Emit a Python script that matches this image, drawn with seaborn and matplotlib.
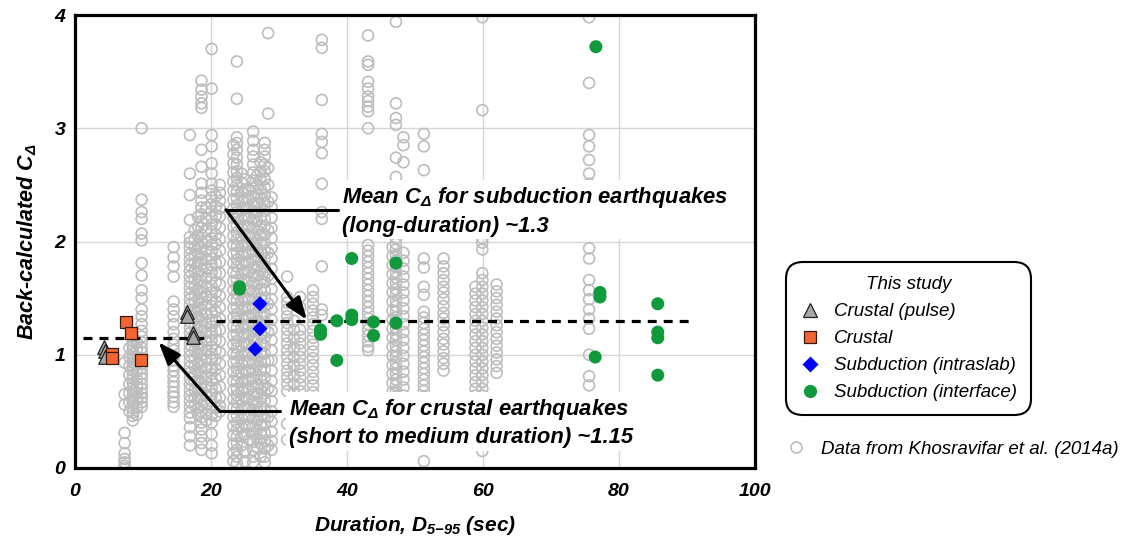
import numpy as np
import pandas as pd
import matplotlib
matplotlib.use("Agg")
import matplotlib.pyplot as plt
from matplotlib.lines import Line2D
import seaborn as sns

# ---------------- data: Khosravifar et al. (2014a) background columns ----------------
kh_d07 = 7.3
kh_v07 = [0.00, 0.02, 0.05, 0.08, 0.13, 0.22, 0.31, 0.56, 0.65, 0.93]
kh_d080 = 8.0
kh_v080 = [0.50, 0.58, 0.66, 0.74, 0.82, 0.90, 0.98, 1.06]
kh_d085 = 8.5
kh_v085 = [0.42, 0.46, 0.49, 0.53, 0.57, 0.60, 0.64, 0.68, 0.71, 0.75, 0.79, 0.82, 0.86,
           0.90, 0.93, 0.97, 1.01, 1.04, 1.08, 1.12, 1.16]
kh_d091 = 9.1
kh_v091 = [0.47, 0.53, 0.60, 0.66, 0.72, 0.78, 0.85, 0.91, 0.98, 1.05, 1.11]
kh_d098 = 9.8
kh_v098 = [3.00, 2.37, 2.26, 2.20, 2.07, 2.01, 1.81, 1.70, 1.57, 1.50, 1.40, 1.34, 1.27,
           1.21, 1.16, 1.11, 1.06, 1.02, 0.97, 0.92, 0.88, 0.83, 0.79, 0.74, 0.70, 0.66,
           0.62, 0.58, 0.54]
kh_d145 = 14.5
kh_v145 = [1.95, 1.86, 1.78, 1.69, 1.47, 1.40, 1.34, 1.27, 1.20, 1.14, 1.09, 1.04, 0.99,
           0.95, 0.90, 0.86, 0.81, 0.76, 0.72, 0.67, 0.63, 0.58, 0.54]
kh_d169 = 16.9
kh_v169 = [2.94, 2.60, 2.41, 2.19, 2.04, 1.99, 1.94, 1.89, 1.84, 1.79, 1.74, 1.69, 1.64,
           1.59, 1.54, 1.49, 1.44, 1.39, 1.34, 1.29, 1.24, 1.19, 1.14, 1.09, 1.04, 0.99,
           0.94, 0.89, 0.84, 0.79, 0.74, 0.69, 0.64, 0.59, 0.54, 0.49, 0.44, 0.36, 0.28, 0.20]
kh_d176 = 17.6
kh_v176 = [2.10, 2.02, 1.95, 1.88, 1.81, 1.74, 1.67, 1.60, 1.53, 1.46, 1.39, 1.32, 1.25,
           1.18, 1.11, 1.04, 0.97, 0.90, 0.83, 0.76, 0.69, 0.62, 0.55]
kh_d181 = 18.1
kh_v181 = [2.22, 2.13, 2.05, 1.97, 1.89, 1.81, 1.73, 1.65, 1.57, 1.49, 1.41, 1.33, 1.25,
           1.17, 1.09, 1.01, 0.93, 0.85, 0.77, 0.69, 0.61, 0.53, 0.47]
kh_d186 = 18.6
kh_v186 = [3.42, 3.34, 3.28, 3.22, 3.18, 2.81, 2.66, 2.51, 2.43, 2.36, 2.30, 2.24, 2.18,
           2.12, 2.06, 2.00, 1.95, 1.90, 1.85, 1.80, 1.75, 1.70, 1.65, 1.60, 1.55, 1.50,
           1.45, 1.40, 1.35, 1.30, 1.25, 1.20, 1.15, 1.10, 1.05, 1.00, 0.95, 0.90, 0.85,
           0.80, 0.75, 0.70, 0.65, 0.60, 0.55, 0.50, 0.45, 0.40, 0.34, 0.28, 0.22, 0.16]
kh_d193 = 19.3
kh_v193 = [2.30, 2.20, 2.10, 2.00, 1.92, 1.84, 1.76, 1.68, 1.60, 1.52, 1.44, 1.36, 1.28,
           1.20, 1.12, 1.04, 0.96, 0.88, 0.80, 0.72, 0.64, 0.56, 0.48, 0.42]
kh_d201 = 20.1
kh_v201 = [3.70, 3.35, 2.94, 2.84, 2.69, 2.60, 2.51, 2.45, 2.39, 2.33, 2.27, 2.21, 2.15,
           2.09, 2.03, 1.97, 1.91, 1.85, 1.79, 1.73, 1.67, 1.61, 1.55, 1.49, 1.43, 1.37,
           1.31, 1.25, 1.19, 1.13, 1.07, 1.01, 0.95, 0.89, 0.83, 0.77, 0.71, 0.65, 0.59,
           0.53, 0.47, 0.40, 0.30, 0.20, 0.13]
kh_d207 = 20.7
kh_v207 = [2.40, 2.31, 2.23, 2.15, 2.06, 1.98, 1.89, 1.81, 1.72, 1.64, 1.55, 1.47, 1.38,
           1.30, 1.21, 1.13, 1.04, 0.96, 0.87, 0.79, 0.70, 0.62, 0.53, 0.46]
kh_d213 = 21.3
kh_v213 = [2.50, 2.43, 2.36, 2.29, 2.22, 2.12, 2.02, 1.92, 1.82, 1.72, 1.62, 1.52, 1.42,
           1.32, 1.22, 1.12, 1.02, 0.92, 0.82, 0.72, 0.62, 0.55, 0.50]
kh_d233 = 23.3
kh_v233 = [2.85, 2.77, 2.69, 2.61, 2.53, 2.45, 2.37, 2.29, 2.21, 2.13, 2.05, 1.97, 1.89,
           1.81, 1.73, 1.65, 1.57, 1.49, 1.41, 1.33, 1.25, 1.17, 1.09, 1.01, 0.93, 0.85,
           0.77, 0.69, 0.61, 0.53, 0.45, 0.37, 0.29, 0.21, 0.13, 0.06]
kh_d238 = 23.8
kh_v238 = [3.59, 3.26, 2.92, 2.87, 2.81, 2.74, 2.68, 2.62, 2.56, 2.50, 2.44, 2.38, 2.32,
           2.26, 2.20, 2.14, 2.08, 2.02, 1.96, 1.90, 1.84, 1.78, 1.72, 1.66, 1.60, 1.54,
           1.48, 1.42, 1.36, 1.30, 1.24, 1.18, 1.12, 1.06, 1.00, 0.94, 0.88, 0.82, 0.76,
           0.70, 0.64, 0.58, 0.52, 0.46, 0.40, 0.34, 0.28, 0.22, 0.16, 0.10, 0.04]
kh_d245 = 24.5
kh_v245 = [2.60, 2.52, 2.44, 2.36, 2.28, 2.20, 2.12, 2.04, 1.96, 1.88, 1.80, 1.72, 1.64,
           1.56, 1.48, 1.40, 1.32, 1.24, 1.16, 1.08, 1.00, 0.92, 0.84, 0.76, 0.68, 0.60,
           0.52, 0.44, 0.36, 0.28, 0.20]
kh_d250 = 25.0
kh_v250 = [2.55, 2.46, 2.38, 2.30, 2.22, 2.14, 2.06, 1.98, 1.90, 1.82, 1.74, 1.66, 1.58,
           1.50, 1.42, 1.34, 1.26, 1.18, 1.10, 1.02, 0.94, 0.86, 0.78, 0.70, 0.62, 0.54,
           0.46, 0.38, 0.30, 0.14, 0.06]
kh_d256 = 25.6
kh_v256 = [2.45, 2.37, 2.29, 2.21, 2.13, 2.05, 1.97, 1.89, 1.81, 1.73, 1.65, 1.57, 1.49,
           1.41, 1.33, 1.25, 1.17, 1.09, 1.01, 0.93, 0.85, 0.77, 0.69, 0.61, 0.53, 0.45,
           0.37, 0.25]
kh_d262 = 26.2
kh_v262 = [2.97, 2.89, 2.81, 2.75, 2.68, 2.61, 2.54, 2.47, 2.40, 2.33, 2.26, 2.19, 2.12,
           2.05, 1.98, 1.91, 1.84, 1.77, 1.70, 1.63, 1.56, 1.49, 1.42, 1.35, 1.28, 1.21,
           1.14, 1.07, 1.00, 0.93, 0.86, 0.79, 0.72, 0.65, 0.58, 0.51, 0.44, 0.37, 0.30,
           0.23, 0.16, 0.10, 0.05]
kh_d268 = 26.8
kh_v268 = [2.58, 2.50, 2.42, 2.34, 2.26, 2.18, 2.10, 2.02, 1.94, 1.86, 1.78, 1.70, 1.62,
           1.54, 1.46, 1.38, 1.30, 1.22, 1.14, 1.06, 0.98, 0.90, 0.82, 0.74, 0.66, 0.58,
           0.50, 0.42, 0.34, 0.26, 0.18]
kh_d273 = 27.3
kh_v273 = [2.70, 2.62, 2.54, 2.46, 2.38, 2.30, 2.22, 2.14, 2.06, 1.98, 1.90, 1.82, 1.74,
           1.66, 1.58, 1.50, 1.42, 1.34, 1.26, 1.18, 1.10, 1.02, 0.94, 0.86, 0.78, 0.70,
           0.62, 0.54, 0.46, 0.38, 0.30, 0.22, 0.10]
kh_d279 = 27.9
kh_v279 = [2.87, 2.81, 2.75, 2.68, 2.62, 2.55, 2.48, 2.41, 2.34, 2.27, 2.20, 2.13, 2.06,
           1.99, 1.92, 1.85, 1.78, 1.71, 1.64, 1.57, 1.50, 1.43, 1.36, 1.29, 1.22, 1.15,
           1.08, 1.01, 0.94, 0.87, 0.80, 0.73, 0.66, 0.59, 0.52, 0.45, 0.38, 0.31, 0.24,
           0.17, 0.10, 0.05]
kh_d284 = 28.4
kh_v284 = [3.84, 3.13, 2.65, 2.50, 2.35, 2.10, 1.90, 1.70, 1.45, 1.20, 0.95, 0.70,
           0.45, 0.20]
kh_d289 = 28.9
kh_v289 = [2.39, 2.30, 2.21, 2.12, 2.03, 1.94, 1.85, 1.76, 1.67, 1.58, 1.49, 1.40, 1.31,
           1.22, 1.13, 1.04, 0.95, 0.86, 0.77, 0.68, 0.59, 0.50, 0.41, 0.32, 0.24, 0.16]
kh_d312 = 31.2
kh_v312 = [1.69, 1.51, 1.46, 1.40, 1.34, 1.28, 1.22, 1.16, 1.10, 1.04, 0.98, 0.92, 0.86,
           0.80, 0.74, 0.68, 0.39, 0.25]
kh_d322 = 32.2
kh_v322 = [1.30, 1.22, 1.14, 1.06, 0.98, 0.90, 0.82, 0.74, 0.66]
kh_d331 = 33.1
kh_v331 = [1.51, 1.42, 1.22, 1.16, 1.10, 1.04, 0.98, 0.92, 0.86, 0.80, 0.74, 0.68]
kh_d350 = 35.0
kh_v350 = [1.57, 1.51, 1.45, 1.39, 1.33, 1.27, 1.21, 1.15, 1.09, 1.03, 0.97, 0.91, 0.85,
           0.79, 0.73, 0.67]
kh_d363 = 36.3
kh_v363 = [3.78, 3.71, 3.25, 2.95, 2.88, 2.78, 2.51, 2.26, 2.20, 1.78, 1.40, 1.35]
kh_d431 = 43.1
kh_v431 = [3.82, 3.59, 3.56, 3.41, 3.35, 3.28, 3.24, 3.19, 3.15, 3.00, 1.97, 1.92, 1.87,
           1.82, 1.77, 1.72, 1.67, 1.62, 1.57, 1.52, 1.47, 1.42, 1.37, 1.32, 1.27, 1.22,
           1.17, 1.12, 1.07, 1.04]
kh_d467 = 46.7
kh_v467 = [1.95, 1.87, 1.79, 1.71, 1.63, 1.55, 1.47, 1.39, 1.31, 1.23, 1.15, 1.07, 0.99,
           0.91, 0.83, 0.75, 0.67, 0.60]
kh_d472 = 47.2
kh_v472 = [3.94, 3.22, 3.09, 3.03, 2.74, 2.57, 2.45, 2.30, 2.15, 2.03, 1.98, 1.93, 1.88,
           1.83, 1.78, 1.73, 1.68, 1.63, 1.58, 1.53, 1.48, 1.43, 1.38, 1.33, 1.28, 1.23,
           1.18, 1.13, 1.08, 1.03, 0.98, 0.93, 0.88, 0.83, 0.78, 0.73, 0.68, 0.63, 0.58]
kh_d483 = 48.3
kh_v483 = [2.92, 2.85, 2.70, 1.90, 1.83, 1.76, 1.69, 1.62, 1.55, 1.48, 1.41, 1.34, 1.27,
           1.20, 1.13, 1.06, 0.99, 0.92, 0.85, 0.78, 0.71, 0.64]
kh_d513 = 51.3
kh_v513 = [2.95, 2.84, 2.63, 1.85, 1.77, 1.60, 1.53, 1.38, 1.33, 1.28, 1.23, 1.18, 1.13,
           1.08, 1.03, 0.98, 0.93, 0.88, 0.83, 0.78, 0.73, 0.68, 0.63, 0.06]
kh_d542 = 54.2
kh_v542 = [1.85, 1.78, 1.72, 1.66, 1.60, 1.55, 1.49, 1.43, 1.37, 1.32, 1.26, 1.20, 1.14,
           1.09, 1.03, 0.97, 0.92, 0.86]
kh_d589 = 58.9
kh_v589 = [1.60, 1.54, 1.48, 1.42, 1.36, 1.30, 1.24, 1.18, 1.12, 1.06, 1.00, 0.94, 0.88,
           0.82, 0.76, 0.70, 0.64]
kh_d599 = 59.9
kh_v599 = [3.98, 3.16, 2.03, 1.99, 1.93, 1.72, 1.66, 1.60, 1.54, 1.48, 1.42, 1.36, 1.30,
           1.24, 1.18, 1.12, 1.06, 1.00, 0.94, 0.88, 0.82, 0.76, 0.70, 0.64, 0.15]
kh_d620 = 62.0
kh_v620 = [1.62, 1.56, 1.50, 1.44, 1.38, 1.32, 1.26, 1.20, 1.14, 1.08, 1.02, 0.96, 0.90,
           0.84]
kh_d756 = 75.6
kh_v756 = [3.98, 3.40, 2.94, 2.84, 2.72, 2.60, 2.51, 1.94, 1.85, 1.66, 1.57, 1.49, 1.40,
           1.32, 1.23, 1.00, 0.81, 0.73, 0.62]

# ---------------- data: this study ----------------
pulse_dur = [4.2, 4.4, 4.4, 16.4, 16.4, 17.4, 17.4]
pulse_cd = [1.07, 1.03, 0.98, 1.38, 1.34, 1.19, 1.16]

crustal_dur = [7.5, 8.2, 5.4, 5.4, 9.7]
crustal_cd = [1.29, 1.19, 1.01, 0.97, 0.95]

intraslab_dur = [27.2, 27.2, 26.5]
intraslab_cd = [1.45, 1.23, 1.05]

interface_dur = [24.2, 24.2, 36.1, 36.1, 38.5, 38.5, 40.7, 40.7, 40.7, 43.9, 43.9,
                 47.2, 47.2, 76.6, 77.2, 77.2, 76.5, 85.7, 85.7, 85.7, 85.7]
interface_cd = [1.60, 1.58, 1.22, 1.18, 1.30, 0.95, 1.85, 1.35, 1.31, 1.29, 1.17,
                1.81, 1.28, 3.72, 1.55, 1.51, 0.98, 1.45, 1.20, 1.15, 0.82]

mean_crustal = 1.15
mean_crustal_range = [1.2, 19.5]
mean_subduction = 1.3
mean_subduction_range = [20.8, 91.2]

# ---------------- build tables ----------------
bg_cols = [
    (kh_d07, kh_v07), (kh_d080, kh_v080), (kh_d085, kh_v085), (kh_d091, kh_v091),
    (kh_d098, kh_v098), (kh_d145, kh_v145), (kh_d169, kh_v169), (kh_d176, kh_v176),
    (kh_d181, kh_v181), (kh_d186, kh_v186), (kh_d193, kh_v193), (kh_d201, kh_v201),
    (kh_d207, kh_v207), (kh_d213, kh_v213), (kh_d233, kh_v233), (kh_d238, kh_v238),
    (kh_d245, kh_v245), (kh_d250, kh_v250), (kh_d256, kh_v256), (kh_d262, kh_v262),
    (kh_d268, kh_v268), (kh_d273, kh_v273), (kh_d279, kh_v279), (kh_d284, kh_v284),
    (kh_d289, kh_v289), (kh_d312, kh_v312), (kh_d322, kh_v322), (kh_d331, kh_v331),
    (kh_d350, kh_v350), (kh_d363, kh_v363), (kh_d431, kh_v431), (kh_d467, kh_v467),
    (kh_d472, kh_v472), (kh_d483, kh_v483), (kh_d513, kh_v513), (kh_d542, kh_v542),
    (kh_d589, kh_v589), (kh_d599, kh_v599), (kh_d620, kh_v620), (kh_d756, kh_v756),
]
bg = pd.DataFrame({
    "duration": [d for d, vals in bg_cols for _ in vals],
    "cdelta": [v for _, vals in bg_cols for v in vals],
})
df_pulse = pd.DataFrame({"duration": pulse_dur, "cdelta": pulse_cd})
df_crustal = pd.DataFrame({"duration": crustal_dur, "cdelta": crustal_cd})
df_intra = pd.DataFrame({"duration": intraslab_dur, "cdelta": intraslab_cd})
df_inter = pd.DataFrame({"duration": interface_dur, "cdelta": interface_cd})

# ---------------- style ----------------
sns.set_style("white")
plt.rcParams["font.family"] = ["Liberation Sans", "DejaVu Sans"]
plt.rcParams["text.color"] = "black"
plt.rcParams["axes.labelcolor"] = "black"
plt.rcParams["xtick.color"] = "black"
plt.rcParams["ytick.color"] = "black"
plt.rcParams["mathtext.fontset"] = "custom"
plt.rcParams["mathtext.rm"] = "Liberation Sans:bold:italic"
plt.rcParams["mathtext.it"] = "Liberation Sans:bold:italic"
plt.rcParams["mathtext.bf"] = "Liberation Sans:bold:italic"
plt.rcParams["mathtext.sf"] = "Liberation Sans:bold:italic"

GRAY_C = "#bdbdbd"
GREEN = "#109a3c"
BLUE = "#0000ff"
ORANGE = "#f26430"
TRI = "#a8a8a8"

fig = plt.figure(figsize=(11.25, 5.41), dpi=100)
ax = fig.add_axes([75 / 1125, 1 - 468 / 541, 680 / 1125, 453 / 541])

sns.scatterplot(data=bg, x="duration", y="cdelta", ax=ax, marker="o", s=62,
                facecolors="none", edgecolor=GRAY_C, linewidth=1.2, legend=False, zorder=2)
for coll in ax.collections:
    coll.set_facecolor("none")

# mean lines
ax.plot(mean_crustal_range, [mean_crustal] * 2, color="black", lw=2.3,
        dashes=(2.8, 2.2), zorder=4)
ax.plot(mean_subduction_range, [mean_subduction] * 2, color="black", lw=2.3,
        dashes=(2.8, 2.2), zorder=4)

sns.scatterplot(data=df_pulse, x="duration", y="cdelta", ax=ax, marker="^", s=95,
                color=TRI, edgecolor="#202020", linewidth=0.9, legend=False, zorder=6)
sns.scatterplot(data=df_crustal, x="duration", y="cdelta", ax=ax, marker="s", s=85,
                color=ORANGE, edgecolor="#3a1a10", linewidth=0.9, legend=False, zorder=6)
sns.scatterplot(data=df_intra, x="duration", y="cdelta", ax=ax, marker="D", s=60,
                color=BLUE, edgecolor="none", linewidth=0, legend=False, zorder=6)
sns.scatterplot(data=df_inter, x="duration", y="cdelta", ax=ax, marker="o", s=88,
                color=GREEN, edgecolor="none", linewidth=0, legend=False, zorder=6)

# annotations
txt_font = dict(fontsize=15.8, fontweight="bold", fontstyle="italic", color="black")
ax.text(39.3, 2.27, "Mean C$_{Δ}$ for subduction earthquakes\n(long-duration) ~1.3",
        ha="left", va="center", linespacing=1.35, zorder=5,
        bbox=dict(boxstyle="square,pad=0.12", fc="white", ec="none"), **txt_font)
ax.text(31.4, 0.40, "Mean C$_{Δ}$ for crustal earthquakes\n(short to medium duration) ~1.15",
        ha="left", va="center", linespacing=1.35, zorder=5,
        bbox=dict(boxstyle="square,pad=0.12", fc="white", ec="none"), **txt_font)

ax.plot([22.2, 38.7], [2.28, 2.28], color="black", lw=2.2, zorder=5)
ax.annotate("", xy=(34.1, 1.31), xytext=(22.2, 2.28),
            arrowprops=dict(arrowstyle="-|>,head_length=0.8,head_width=0.3",
                            color="black", lw=2.2, shrinkA=0, shrinkB=0,
                            mutation_scale=17), zorder=5)
ax.plot([21.3, 30.1], [0.50, 0.50], color="black", lw=2.2, zorder=5)
ax.annotate("", xy=(12.3, 1.11), xytext=(21.3, 0.50),
            arrowprops=dict(arrowstyle="-|>,head_length=0.8,head_width=0.3",
                            color="black", lw=2.2, shrinkA=0, shrinkB=0,
                            mutation_scale=17), zorder=5)

# axes
ax.set_xlim(0, 100)
ax.set_ylim(0, 4)
ax.set_xticks([0, 20, 40, 60, 80, 100])
ax.set_xticks([10, 30, 50, 70, 90], minor=True)
ax.set_yticks([0, 1, 2, 3, 4])
ax.set_yticks([0.2, 0.4, 0.6, 0.8, 1.2, 1.4, 1.6, 1.8, 2.2, 2.4, 2.6, 2.8,
               3.2, 3.4, 3.6, 3.8], minor=True)
ax.grid(True, which="major", color="#d6d6d6", lw=1.0, zorder=0)
ax.set_axisbelow(True)
for sp in ax.spines.values():
    sp.set_visible(True)
    sp.set_linewidth(2.3)
    sp.set_color("black")
    sp.set_zorder(8)
ax.tick_params(which="major", direction="in", length=8, width=2.0, color="black")
ax.tick_params(which="minor", direction="in", length=4.5, width=2.0, color="black")
ax.tick_params(axis="x", which="major", pad=11, labelsize=14)
ax.tick_params(axis="y", which="major", pad=7, labelsize=14)
ax.tick_params(top=False, right=False, which="both")
for lab in ax.get_xticklabels() + ax.get_yticklabels():
    lab.set_fontweight("bold")
    lab.set_fontstyle("italic")
    lab.set_color("black")

ax.set_xlabel("Duration, D$_{5{-}95}$ (sec)", fontsize=15, fontweight="bold",
              fontstyle="italic", labelpad=10, color="black")
ax.set_ylabel("Back-calculated C$_{Δ}$", fontsize=15.5, fontweight="bold",
              fontstyle="italic", labelpad=11, color="black")

# legends
handles = [
    Line2D([], [], ls="none", marker="^", ms=10.5, mfc=TRI, mec="#202020", mew=0.9),
    Line2D([], [], ls="none", marker="s", ms=9, mfc=ORANGE, mec="#3a1a10", mew=0.9),
    Line2D([], [], ls="none", marker="D", ms=7.8, mfc=BLUE, mec="none"),
    Line2D([], [], ls="none", marker="o", ms=9.5, mfc=GREEN, mec="none"),
]
labels = ["Crustal (pulse)", "Crustal", "Subduction (intraslab)", "Subduction (interface)"]
leg = fig.legend(handles, labels, title="This study", loc="upper left",
                 bbox_to_anchor=(786 / 1125, 1 - 262 / 541),
                 prop=dict(family="Liberation Sans", style="italic", size=13.5),
                 title_fontproperties=dict(family="Liberation Sans", style="italic", size=13.5),
                 frameon=True, fancybox=True, edgecolor="black", framealpha=1,
                 borderpad=0.75, labelspacing=0.53, handletextpad=0.7, handlelength=1.1,
                 borderaxespad=0)
leg.get_frame().set_linewidth(1.5)
leg.get_frame().set_boxstyle("round,pad=0,rounding_size=0.9")

h2 = [Line2D([], [], ls="none", marker="o", ms=8, mfc="none", mec=GRAY_C, mew=1.2)]
fig.legend(h2, ["Data from Khosravifar et al. (2014a)"], loc="center left",
           bbox_to_anchor=(774 / 1125, 1 - 449 / 541),
           prop=dict(family="Liberation Sans", style="italic", size=13.5),
           frameon=False, handletextpad=0.6, handlelength=1.5, borderaxespad=0)

fig.savefig("out.png", dpi=100)
